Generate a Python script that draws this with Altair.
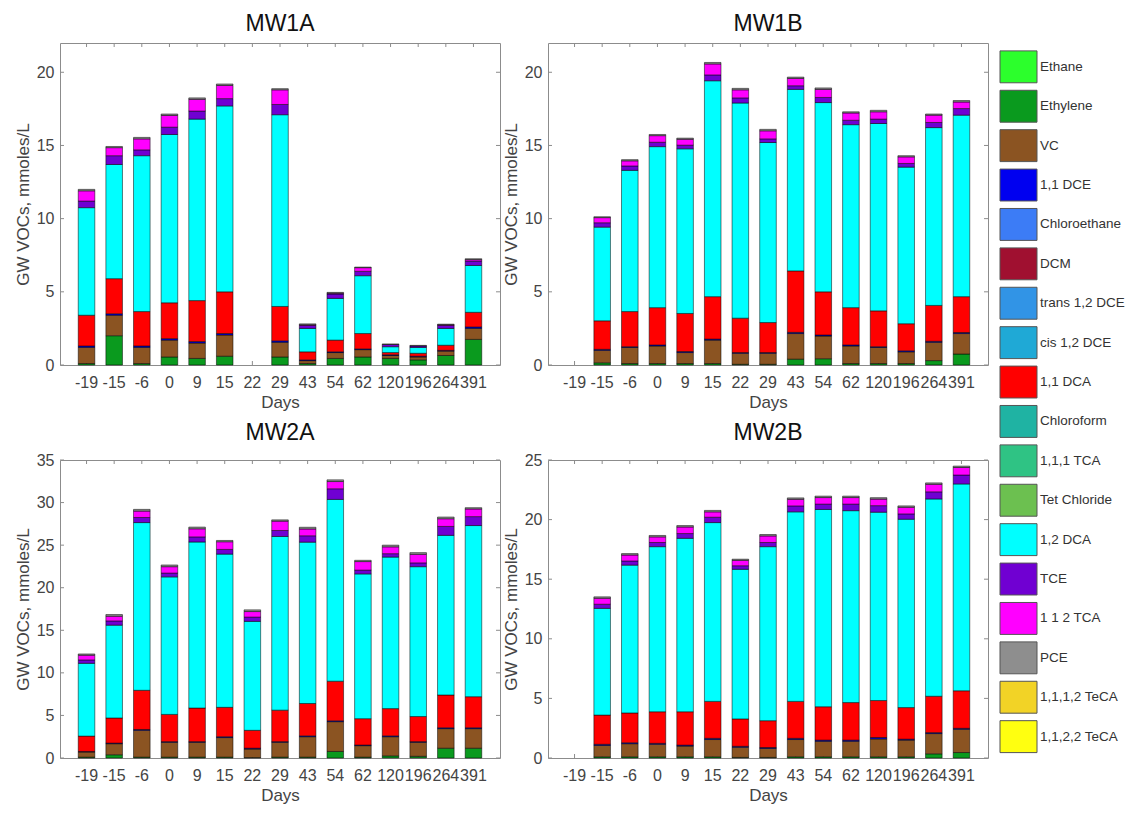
import altair as alt
import pandas as pd

DAYS = ["-19", "-15", "-6", "0", "9", "15", "22", "29", "43", "54", "62", "120", "196", "264", "391"]

COMPOUNDS = ["Ethane", "Ethylene", "VC", "1,1 DCE", "Chloroethane", "DCM", "trans 1,2 DCE",
             "cis 1,2 DCE", "1,1 DCA", "Chloroform", "1,1,1 TCA", "Tet Chloride", "1,2 DCA",
             "TCE", "1 1 2 TCA", "PCE", "1,1,1,2 TeCA", "1,1,2,2 TeCA"]
COLORS = ["#2cff2c", "#0a9a1e", "#8b5422", "#0000f0", "#3c7cf6", "#a01030", "#3194e6",
          "#1fa9d6", "#ff0000", "#1fb3a3", "#2fc384", "#6cc050", "#00ffff",
          "#7000d2", "#ff00ff", "#8e8e8e", "#f2d326", "#ffff10"]

N = None
MW1A = {
    "Ethylene":  [0.1, 2.0, 0.1, 0.55, 0.45, 0.6, N, 0.55, 0.1, 0.45, 0.55, 0.45, 0.35, 0.65, 1.75],
    "VC":        [1.1, 1.4, 1.1, 1.15, 1.05, 1.45, N, 1.0, 0.2, 0.4, 0.5, 0.2, 0.2, 0.3, 0.75],
    "1,1 DCE":   [0.1, 0.1, 0.1, 0.1, 0.1, 0.1, N, 0.1, 0.05, 0.05, 0.05, 0.05, 0.05, 0.05, 0.1],
    "1,1 DCA":   [2.1, 2.4, 2.35, 2.45, 2.8, 2.85, N, 2.35, 0.55, 0.8, 1.05, 0.15, 0.2, 0.35, 1.0],
    "1,2 DCA":   [7.35, 7.8, 10.65, 11.5, 12.4, 12.7, N, 13.1, 1.6, 2.85, 3.95, 0.4, 0.4, 1.15, 3.2],
    "TCE":       [0.45, 0.6, 0.4, 0.5, 0.55, 0.5, N, 0.7, 0.2, 0.3, 0.3, 0.15, 0.1, 0.2, 0.3],
    "1 1 2 TCA": [0.7, 0.55, 0.75, 0.8, 0.8, 0.9, N, 1.0, 0.05, 0.05, 0.25, N, N, 0.05, 0.1],
    "PCE":       [0.1, 0.08, 0.1, 0.1, 0.1, 0.1, N, 0.08, 0.06, 0.06, 0.04, 0.04, 0.04, 0.04, 0.06],
}
MW1B = {
    "Ethylene":  [N, 0.15, 0.1, 0.1, 0.1, 0.1, 0.05, 0.05, 0.4, 0.43, 0.1, 0.1, 0.1, 0.3, 0.75],
    "VC":        [N, 0.85, 1.1, 1.2, 0.75, 1.6, 0.75, 0.75, 1.75, 1.55, 1.2, 1.1, 0.8, 1.25, 1.4],
    "1,1 DCE":   [N, 0.07, 0.05, 0.07, 0.07, 0.07, 0.05, 0.05, 0.08, 0.07, 0.07, 0.05, 0.07, 0.07, 0.07],
    "1,1 DCA":   [N, 1.95, 2.4, 2.55, 2.6, 2.9, 2.35, 2.05, 4.2, 2.95, 2.55, 2.45, 1.85, 2.45, 2.45],
    "1,2 DCA":   [N, 6.4, 9.65, 11.0, 11.25, 14.75, 14.7, 12.3, 12.4, 12.93, 12.5, 12.8, 10.7, 12.15, 12.4],
    "TCE":       [N, 0.3, 0.3, 0.3, 0.25, 0.4, 0.35, 0.25, 0.25, 0.35, 0.3, 0.3, 0.25, 0.35, 0.45],
    "1 1 2 TCA": [N, 0.35, 0.35, 0.45, 0.4, 0.75, 0.55, 0.55, 0.5, 0.55, 0.5, 0.5, 0.45, 0.5, 0.45],
    "PCE":       [N, 0.06, 0.08, 0.08, 0.08, 0.1, 0.1, 0.1, 0.09, 0.1, 0.08, 0.1, 0.08, 0.08, 0.1],
}
MW2A = {
    "Ethylene":  [0.1, 0.38, 0.1, 0.1, 0.1, 0.1, 0.05, 0.1, 0.1, 0.77, 0.1, 0.25, 0.2, 1.15, 1.15],
    "VC":        [0.6, 1.3, 3.15, 1.75, 1.75, 2.3, 1.0, 1.75, 2.4, 3.5, 1.35, 2.25, 1.65, 2.3, 2.3],
    "1,1 DCE":   [0.07, 0.07, 0.1, 0.07, 0.07, 0.1, 0.1, 0.07, 0.1, 0.1, 0.07, 0.1, 0.07, 0.1, 0.1],
    "1,1 DCA":   [1.8, 2.95, 4.6, 3.2, 3.95, 3.45, 2.1, 3.7, 3.8, 4.65, 3.1, 3.2, 2.95, 3.85, 3.65],
    "1,2 DCA":   [8.55, 10.9, 19.7, 16.15, 19.5, 18.0, 12.8, 20.4, 18.95, 21.35, 17.0, 17.8, 17.6, 18.75, 20.1],
    "TCE":       [0.4, 0.5, 0.6, 0.45, 0.6, 0.55, 0.5, 0.7, 0.75, 1.25, 0.45, 0.4, 0.45, 1.05, 1.05],
    "1 1 2 TCA": [0.55, 0.55, 0.75, 0.75, 0.95, 0.9, 0.65, 1.1, 0.8, 0.85, 1.0, 0.8, 1.0, 0.9, 0.9],
    "PCE":       [0.15, 0.2, 0.2, 0.2, 0.2, 0.15, 0.2, 0.15, 0.2, 0.2, 0.15, 0.2, 0.2, 0.2, 0.15],
}
MW2B = {
    "Ethylene":  [N, 0.1, 0.1, 0.1, 0.1, 0.1, 0.05, 0.05, 0.1, 0.1, 0.1, 0.1, 0.1, 0.35, 0.46],
    "VC":        [N, 0.95, 1.1, 1.05, 0.9, 1.45, 0.85, 0.75, 1.45, 1.3, 1.3, 1.5, 1.4, 1.7, 1.95],
    "1,1 DCE":   [N, 0.1, 0.08, 0.08, 0.08, 0.1, 0.08, 0.08, 0.1, 0.1, 0.1, 0.12, 0.08, 0.08, 0.08],
    "1,1 DCA":   [N, 2.45, 2.5, 2.65, 2.8, 3.1, 2.3, 2.25, 3.1, 2.8, 3.15, 3.1, 2.65, 3.05, 3.15],
    "1,2 DCA":   [N, 8.95, 12.4, 13.85, 14.55, 15.0, 12.55, 14.6, 15.9, 16.55, 16.1, 15.8, 15.8, 16.55, 17.35],
    "TCE":       [N, 0.35, 0.35, 0.35, 0.4, 0.45, 0.3, 0.35, 0.5, 0.45, 0.55, 0.55, 0.45, 0.6, 0.75],
    "1 1 2 TCA": [N, 0.5, 0.5, 0.47, 0.55, 0.45, 0.45, 0.55, 0.55, 0.55, 0.55, 0.55, 0.55, 0.63, 0.63],
    "PCE":       [N, 0.12, 0.12, 0.12, 0.12, 0.12, 0.1, 0.12, 0.12, 0.12, 0.12, 0.12, 0.12, 0.12, 0.12],
}

Y_TICKS_22 = [0, 5, 10, 15, 20]
Y_TICKS_35 = [0, 5, 10, 15, 20, 25, 30, 35]
Y_TICKS_25 = [0, 5, 10, 15, 20, 25]

FONT = "Liberation Sans"
FRAME = "#8c8c8c"
TXT = "#444444"
TL = 4  # inner tick length

CSCALE = alt.Scale(domain=COMPOUNDS, range=COLORS)


def panel(name, values, ymax, yticks, w, h):
    rows = []
    for comp, vals in values.items():
        for d, v in zip(DAYS, vals):
            if v:
                rows.append({"Day": d, "Compound": comp, "Value": v,
                             "Order": COMPOUNDS.index(comp)})
    df = pd.DataFrame(rows)
    xscale = alt.Scale(domain=DAYS, paddingInner=0.4, paddingOuter=0.66)
    yscale = alt.Scale(domain=[0, ymax], nice=False, zero=True)
    xaxis = alt.Axis(title="Days", labelAngle=0, labelOverlap=False,
                     labelPadding=9, titlePadding=4, labelFlush=False, labelBound=False)
    yaxis = alt.Axis(title="GW VOCs, mmoles/L", values=yticks,
                     labelPadding=6, titlePadding=4)
    xenc = alt.X("Day:N", sort=DAYS, scale=xscale, axis=xaxis)

    bars = alt.Chart(df).mark_bar(stroke="black", strokeWidth=0.6, strokeOpacity=0.85).encode(
        x=xenc,
        y=alt.Y("Value:Q", stack="zero", scale=yscale, axis=yaxis),
        color=alt.Color("Compound:N", scale=CSCALE, legend=None),
        order=alt.Order("Order:Q", sort="ascending"),
    )

    xt = pd.DataFrame({"Day": DAYS})
    yt = pd.DataFrame({"Value": yticks})
    yenc = alt.Y("Value:Q", scale=yscale, axis=yaxis)
    top_t = alt.Chart(xt).mark_rule(color=FRAME).encode(x=xenc, y=alt.value(0), y2=alt.value(TL))
    bot_t = alt.Chart(xt).mark_rule(color=FRAME).encode(x=xenc, y=alt.value(h - TL), y2=alt.value(h))
    left_t = alt.Chart(yt).mark_rule(color=FRAME).encode(y=yenc, x=alt.value(0), x2=alt.value(TL))
    right_t = alt.Chart(yt).mark_rule(color=FRAME).encode(y=yenc, x=alt.value(w - TL), x2=alt.value(w))

    return alt.layer(top_t, bot_t, left_t, right_t, bars).properties(
        width=w, height=h, title=alt.TitleParams(name))


c1 = panel("MW1A", MW1A, 22, Y_TICKS_22, 440, 322)
c2 = panel("MW1B", MW1B, 22, Y_TICKS_22, 440, 322)
c3 = panel("MW2A", MW2A, 35, Y_TICKS_35, 440, 298)
c4 = panel("MW2B", MW2B, 25, Y_TICKS_25, 440, 298)

# legend drawn as its own small chart
leg_df = pd.DataFrame({"Compound": COMPOUNDS})
LEG_STEP = 39.4
LEG_PO = 0.2
LEG_H = LEG_STEP * (len(COMPOUNDS) - 0.19 + 2 * LEG_PO)
leg_y = alt.Y("Compound:N", sort=COMPOUNDS,
              scale=alt.Scale(domain=COMPOUNDS, paddingInner=0.19, paddingOuter=LEG_PO),
              axis=None)
swatches = alt.Chart(leg_df).mark_rect(stroke="#555555", strokeWidth=1).encode(
    y=leg_y, x=alt.value(0), x2=alt.value(37),
    color=alt.Color("Compound:N", scale=CSCALE, legend=None),
)
labels = alt.Chart(leg_df).mark_text(align="left", baseline="middle", font=FONT,
                                     fontSize=13.5, color="#333333").encode(
    y=leg_y, x=alt.value(40), text="Compound:N",
)
legend = alt.layer(swatches, labels).properties(
    width=37, height=LEG_H, view=alt.ViewBackground(stroke="transparent"))

grid = alt.vconcat(
    alt.hconcat(c1, c2, spacing=0),
    alt.hconcat(c3, c4, spacing=0),
    spacing=10,
)

chart = alt.hconcat(grid, legend, spacing=10).properties(
    padding={"left": 5, "top": 4, "right": 0, "bottom": 0},
    background="white",
).configure_view(
    stroke=FRAME, strokeWidth=1
).configure_axis(
    domain=False, ticks=False, grid=False,
    labelFont=FONT, labelFontSize=16, labelColor=TXT,
    titleFont=FONT, titleFontSize=17, titleFontWeight="normal", titleColor=TXT,
).configure_title(
    font=FONT, fontSize=23, fontWeight="normal", color="#111111", offset=7,
)

chart.save("out.html", embed_options={"renderer": "svg", "actions": False})
